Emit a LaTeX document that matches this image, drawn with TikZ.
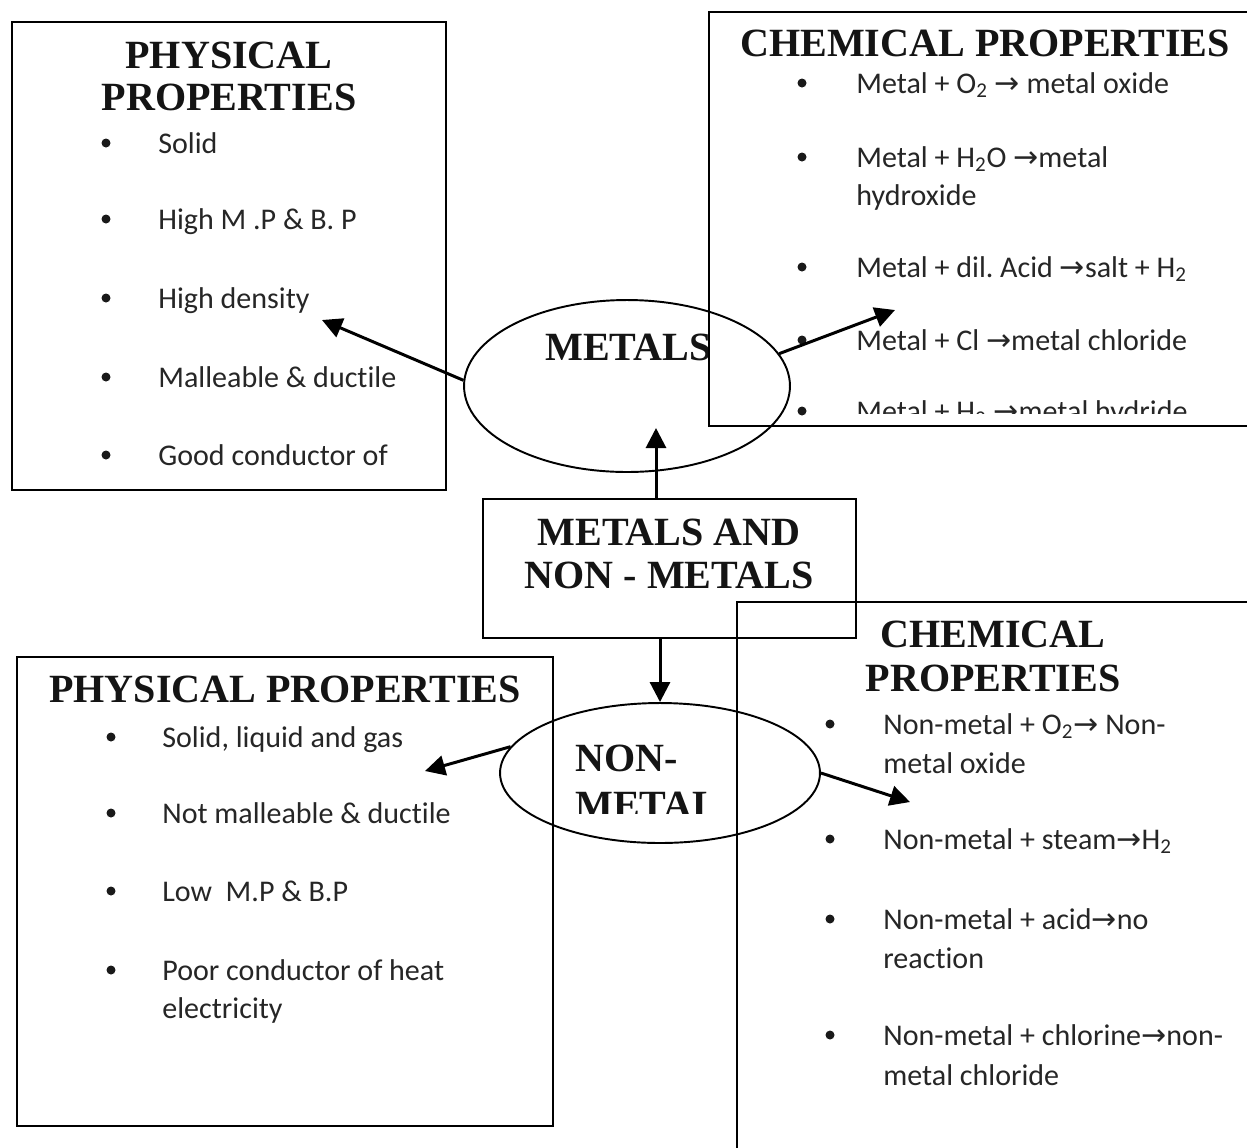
\documentclass[tikz,border=0pt]{standalone}
\usepackage{fontspec}
\setmainfont{Carlito}[Ligatures=NoCommon]
\newfontfamily\headfont{Liberation Serif}
\newfontfamily\symfont{DejaVu Sans}
\usetikzlibrary{shapes.geometric,arrows.meta}
\newcommand\ra{{\symfont →}}
\frenchspacing

\begin{document}
\begin{tikzpicture}[x=0.02cm,y=-0.02cm,
  frame/.style={draw, line width=1.1pt, rectangle, inner sep=0pt},
  oval/.style={draw, line width=1.1pt, ellipse, inner sep=0pt},
  conn/.style={line width=1.7pt, -{Triangle[length=0.4cm,width=0.4cm]}},
  head/.style={font=\headfont\bfseries\fontsize{22.8}{27}\selectfont, inner sep=0pt, anchor=base, text=black!92},
  item/.style={font=\fontsize{17.1}{20}\selectfont, inner sep=0pt, anchor=base west, text=black!85},
  dot/.style={fill=black!90},
]
\path[use as bounding box, clip] (0,0) rectangle (1247,1147);
\fill[white] (0,0) rectangle (1247,1147);

% ---------- top left: physical properties of metals ----------
\node[frame, minimum width=8.68cm, minimum height=9.36cm] (mphys) at (229,256) {};
\node[head] (mphysA) at (229,68) {PHYSICAL};
\node[head] (mphysB) at (229,110) {PROPERTIES};
\foreach \yy/\txt [count=\i] in {153/Solid, 229/High M .P \& B. P, 308/High density,
                                   387/Malleable \& ductile, 465/Good conductor of}{
  \fill[dot] (106,\yy-10) circle (0.09cm);
  \node[item] (mp\i) at (158,\yy) {\txt};
}

% ---------- central METALS label (covered on the right by the box) ----------
\node[head, anchor=base west] (metalsT) at (545,360) {METALS};

% ---------- top right: chemical properties of metals ----------
\node[frame, fill=white, minimum width=11.02cm, minimum height=8.28cm] (mchem) at (984.5,219) {};
\node[head] (mchemT) at (985,56) {CHEMICAL PROPERTIES};
\foreach \yy in {93,167,277,350,421}{
  \fill[dot] (802,\yy-10) circle (0.09cm);
}
\node[item] (mc1) at (856,93) {Metal + O\textsubscript{2} \ra{} metal oxide};
\node[item] (mc2) at (856,167) {Metal + H\textsubscript{2}O \ra metal};
\node[item] (mc2b) at (856,205) {hydroxide};
\node[item] (mc3) at (856,277) {Metal + dil. Acid \ra salt + H\textsubscript{2}};
\node[item] (mc4) at (856,350) {Metal + Cl \ra metal chloride};
\begin{scope}
  \clip (709,12) rectangle (1247,413);
  \node[item] (mc5) at (856,421) {Metal + H\textsubscript{2} \ra metal hydride};
\end{scope}

% ---------- centre box ----------
\node[frame, minimum width=7.46cm, minimum height=2.78cm] (root) at (669.5,568.5) {};
\node[head] (rootA) at (669,545) {METALS AND};
\node[head] (rootB) at (669,588) {NON - METALS};

% ---------- bottom left: physical properties of non-metals ----------
\node[frame, minimum width=10.72cm, minimum height=9.38cm] (nphys) at (285,891.5) {};
\node[head] (nphysT) at (285,702) {PHYSICAL PROPERTIES};
\foreach \yy/\txt [count=\i] in {747/{Solid, liquid and gas}, 823/Not malleable \& ductile,
                                   901/Low\ \ M.P \& B.P, 980/Poor conductor of heat}{
  \fill[dot] (111,\yy-10) circle (0.09cm);
  \node[item] (np\i) at (162,\yy) {\txt};
}
\node[item] (np4b) at (162,1018) {electricity};

% ---------- bottom right: chemical properties of non-metals ----------
\node[frame, minimum width=10.66cm, minimum height=11.36cm] (nchem) at (1003.5,886) {};
\node[head] (nchemA) at (993,647) {CHEMICAL};
\node[head] (nchemB) at (993,691) {PROPERTIES};
\foreach \yy in {734,849,929,1045}{
  \fill[dot] (830,\yy-10) circle (0.09cm);
}
\node[item] (nc1) at (883,734) {Non-metal + O\textsubscript{2}\ra{} Non-};
\node[item] (nc1b) at (883,773) {metal oxide};
\node[item] (nc2) at (883,849) {Non-metal + steam\ra H\textsubscript{2}};
\node[item] (nc3) at (883,929) {Non-metal + acid\ra no};
\node[item] (nc3b) at (883,968) {reaction};
\node[item] (nc4) at (883,1045) {Non-metal + chlorine\ra non-};
\node[item] (nc4b) at (883,1085) {metal chloride};

% ---------- NON-METAL label, cut off by its frame ----------
\begin{scope}
  \clip (500,700) rectangle (710,813);
  \node[head, anchor=base west] (nonmetT) at (575,771) {NON-};
  \node[head, anchor=base west] (nonmetB) at (575,818) {METAL};
\end{scope}

% ---------- ellipses ----------
\node[oval, minimum width=6.52cm, minimum height=3.44cm] (metals) at (627,386) {};
\node[oval, minimum width=6.4cm, minimum height=2.8cm] (nonmetals) at (660,773) {};

% ---------- connectors ----------
\coordinate (mtip) at (656,428);
\coordinate (mpTip) at (322,320);
\coordinate (mcTip) at (895,310);
\coordinate (npTip) at (425,771);
\coordinate (ncTip) at (910,802);

\draw[conn] (root.north -| mtip) -- (mtip);
\draw[conn] (root.south -| nonmetals.north) -- (nonmetals.north);
\draw[conn] (metals.178) -- (mpTip);
\draw[conn] (metals.12) -- (mcTip);
\draw[conn] (nonmetals.170) -- (npTip);
\draw[conn] (nonmetals.east) -- (ncTip);
\end{tikzpicture}
\end{document}
